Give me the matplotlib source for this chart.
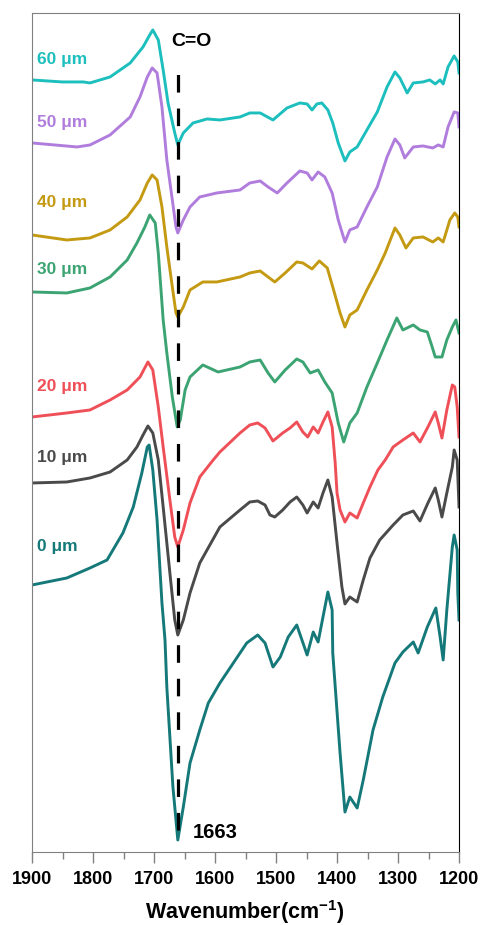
import matplotlib
matplotlib.use("Agg")
import matplotlib.pyplot as plt

plt.rcParams['font.family'] = ['Liberation Sans', 'DejaVu Sans']
plt.rcParams['mathtext.fontset'] = 'custom'
plt.rcParams['mathtext.rm'] = 'Liberation Sans'
plt.rcParams['mathtext.bf'] = 'Liberation Sans:bold'

# spectra, offset intensities (a.u.)
wn_60 = [1900, 1850, 1816, 1805, 1772, 1739, 1718, 1707, 1702, 1693, 1685, 1677, 1666, 1661, 1652, 1636, 1613,
         1592, 1559, 1543, 1526, 1505, 1482, 1461, 1449, 1441, 1433, 1425, 1415, 1407, 1398, 1387, 1379, 1367,
         1351, 1334, 1318, 1305, 1297, 1285, 1275, 1259, 1248, 1239, 1231, 1226, 1218, 1208, 1202, 1200]
ab_60 = [7.72, 7.70, 7.70, 7.69, 7.75, 7.89, 8.05, 8.17, 8.22, 8.12, 7.82, 7.49, 7.19, 7.07, 7.19, 7.29, 7.33,
         7.32, 7.35, 7.39, 7.39, 7.32, 7.44, 7.49, 7.48, 7.42, 7.48, 7.49, 7.42, 7.29, 7.09, 6.91, 7.00, 7.05,
         7.22, 7.40, 7.65, 7.80, 7.74, 7.59, 7.69, 7.70, 7.72, 7.68, 7.72, 7.68, 7.85, 7.96, 7.90, 7.79]

wn_50 = [1900, 1826, 1805, 1772, 1739, 1723, 1711, 1703, 1695, 1687, 1679, 1670, 1664, 1661, 1652, 1641, 1625,
         1597, 1559, 1543, 1526, 1513, 1498, 1482, 1461, 1449, 1441, 1431, 1420, 1408, 1398, 1387, 1379, 1367,
         1351, 1334, 1318, 1305, 1297, 1289, 1275, 1259, 1243, 1234, 1226, 1218, 1208, 1202, 1200]
ab_50 = [7.09, 7.05, 7.07, 7.17, 7.35, 7.55, 7.75, 7.84, 7.79, 7.45, 6.92, 6.52, 6.25, 6.19, 6.32, 6.45, 6.55,
         6.59, 6.62, 6.69, 6.71, 6.65, 6.59, 6.69, 6.81, 6.79, 6.72, 6.80, 6.75, 6.59, 6.32, 6.10, 6.22, 6.25,
         6.45, 6.65, 6.95, 7.13, 7.07, 6.94, 7.05, 7.06, 7.04, 7.07, 7.05, 7.25, 7.40, 7.39, 7.25]

wn_40 = [1900, 1843, 1805, 1772, 1744, 1723, 1711, 1703, 1695, 1687, 1679, 1670, 1664, 1661, 1652, 1641, 1620,
         1597, 1559, 1543, 1526, 1513, 1502, 1485, 1466, 1456, 1441, 1429, 1416, 1407, 1395, 1387, 1379, 1367,
         1351, 1334, 1321, 1305, 1297, 1287, 1275, 1259, 1243, 1234, 1226, 1215, 1207, 1202, 1200]
ab_40 = [6.17, 6.12, 6.14, 6.22, 6.35, 6.52, 6.69, 6.77, 6.72, 6.45, 6.05, 5.65, 5.39, 5.35, 5.45, 5.62, 5.70,
         5.70, 5.75, 5.79, 5.81, 5.75, 5.70, 5.79, 5.90, 5.89, 5.83, 5.91, 5.84, 5.65, 5.39, 5.25, 5.37, 5.42,
         5.62, 5.82, 5.99, 6.24, 6.17, 6.04, 6.14, 6.15, 6.10, 6.14, 6.10, 6.32, 6.39, 6.35, 6.25]

wn_30 = [1900, 1843, 1805, 1772, 1744, 1728, 1715, 1707, 1698, 1693, 1687, 1685, 1679, 1670, 1662, 1657, 1649,
         1641, 1620, 1595, 1559, 1543, 1526, 1513, 1502, 1485, 1466, 1456, 1444, 1431, 1420, 1408, 1398, 1389,
         1379, 1367, 1351, 1334, 1318, 1302, 1292, 1275, 1264, 1252, 1244, 1239, 1228, 1220, 1211, 1205, 1200]
ab_30 = [5.60, 5.59, 5.64, 5.75, 5.92, 6.09, 6.25, 6.37, 6.29, 5.99, 5.49, 5.32, 4.99, 4.55, 4.25, 4.32, 4.62,
         4.75, 4.87, 4.80, 4.85, 4.90, 4.92, 4.79, 4.70, 4.82, 4.93, 4.90, 4.79, 4.82, 4.70, 4.59, 4.29, 4.10,
         4.29, 4.39, 4.65, 4.89, 5.12, 5.34, 5.22, 5.27, 5.22, 5.20, 5.05, 4.95, 4.95, 5.12, 5.25, 5.32, 5.19]

wn_20 = [1900, 1843, 1805, 1772, 1744, 1723, 1710, 1702, 1693, 1685, 1674, 1666, 1661, 1652, 1641, 1625, 1603,
         1592, 1559, 1543, 1530, 1518, 1505, 1489, 1477, 1466, 1456, 1448, 1439, 1431, 1423, 1415, 1408, 1403,
         1400, 1395, 1387, 1379, 1367, 1357, 1346, 1333, 1321, 1308, 1292, 1275, 1264, 1251, 1239, 1234, 1228,
         1220, 1211, 1207, 1203, 1200]
ab_20 = [4.35, 4.39, 4.42, 4.52, 4.62, 4.75, 4.90, 4.82, 4.45, 4.05, 3.52, 3.15, 3.05, 3.22, 3.49, 3.75, 3.92,
         4.00, 4.19, 4.27, 4.29, 4.24, 4.11, 4.19, 4.24, 4.30, 4.20, 4.15, 4.25, 4.19, 4.30, 4.40, 4.25, 3.89,
         3.59, 3.42, 3.30, 3.39, 3.34, 3.49, 3.65, 3.82, 3.92, 4.05, 4.12, 4.19, 4.10, 4.25, 4.40, 4.29, 4.14,
         4.42, 4.67, 4.65, 4.45, 4.15]

wn_10 = [1900, 1843, 1805, 1772, 1744, 1728, 1718, 1710, 1702, 1693, 1685, 1674, 1666, 1661, 1652, 1641, 1625,
         1592, 1559, 1543, 1530, 1518, 1510, 1502, 1489, 1477, 1466, 1456, 1449, 1439, 1431, 1423, 1415, 1408,
         1400, 1392, 1387, 1379, 1367, 1357, 1346, 1330, 1308, 1292, 1275, 1264, 1251, 1239, 1234, 1228, 1220,
         1211, 1208, 1203, 1200]
ab_10 = [3.69, 3.70, 3.74, 3.80, 3.92, 4.05, 4.17, 4.26, 4.19, 3.92, 3.45, 2.79, 2.32, 2.17, 2.32, 2.59, 2.89,
         3.25, 3.42, 3.50, 3.51, 3.47, 3.37, 3.35, 3.42, 3.50, 3.55, 3.47, 3.39, 3.50, 3.44, 3.59, 3.72, 3.55,
         3.09, 2.65, 2.48, 2.55, 2.50, 2.72, 2.94, 3.12, 3.27, 3.37, 3.41, 3.31, 3.49, 3.64, 3.52, 3.35, 3.59,
         3.85, 4.02, 3.92, 3.45]

wn_0 = [1900, 1843, 1805, 1777, 1751, 1734, 1720, 1711, 1708, 1702, 1695, 1687, 1682, 1679, 1669, 1661, 1652,
        1641, 1625, 1611, 1592, 1570, 1548, 1530, 1518, 1505, 1493, 1480, 1466, 1449, 1439, 1431, 1423, 1415,
        1408, 1407, 1395, 1387, 1379, 1367, 1357, 1341, 1325, 1305, 1292, 1275, 1267, 1252, 1238, 1231, 1226,
        1220, 1211, 1208, 1203, 1202, 1200]
ab_0 = [2.67, 2.74, 2.84, 2.92, 3.19, 3.45, 3.79, 4.05, 4.07, 3.82, 3.32, 2.49, 2.12, 1.65, 0.65, 0.12, 0.45,
        0.89, 1.22, 1.49, 1.69, 1.89, 2.09, 2.17, 2.09, 1.85, 1.95, 2.15, 2.27, 1.97, 2.20, 2.10, 2.35, 2.60,
        2.42, 1.99, 0.99, 0.40, 0.55, 0.44, 0.72, 1.22, 1.55, 1.89, 2.00, 2.10, 1.99, 2.25, 2.44, 2.15, 1.92,
        2.42, 3.05, 3.17, 3.02, 2.59, 2.32]

labels = ['60 μm', '50 μm', '40 μm', '30 μm', '20 μm', '10 μm', '0 μm']
label_y = [7.92, 7.29, 6.49, 5.82, 4.65, 3.94, 3.05]
colors = ['#1cbfbd', '#b07ddd', '#c49a12', '#3ba472', '#ef5058', '#4a4a4a', '#15797a']
wn_all = [wn_60, wn_50, wn_40, wn_30, wn_20, wn_10, wn_0]
ab_all = [ab_60, ab_50, ab_40, ab_30, ab_20, ab_10, ab_0]

co_peak = 1660

fig = plt.figure(figsize=(4.8, 9.25), dpi=100)
ax = fig.add_axes([0.0667, 0.0789, 0.8896, 0.9071])

for wn, ab, c in zip(wn_all, ab_all, colors):
    ax.plot(wn, ab, color=c, lw=2.1, solid_joinstyle='round')

for lab, y, c in zip(labels, label_y, colors):
    ax.text(1892, y, lab, color=c, fontsize=12.5, fontweight='bold', va='center', ha='left')

ax.plot([co_peak, co_peak], [0.22, 7.89], color='black', lw=2.3, linestyle=(0, (5.5, 5)))
ax.text(1639, 8.10, 'C=O', fontsize=14, fontweight='bold', ha='center', va='center')
ax.text(1636, 0.20, '1663', fontsize=14.5, fontweight='bold', ha='left', va='center')

ax.set_xlim(1900, 1200)
ax.set_ylim(0, 8.39)
ax.set_yticks([])
ax.set_xticks([1900, 1800, 1700, 1600, 1500, 1400, 1300, 1200])
ax.set_xticks(range(1850, 1200, -100), minor=True)
ax.tick_params(axis='x', which='major', direction='out', length=8, width=1, color='#808080', pad=6,
               labelsize=13)
ax.tick_params(axis='x', which='minor', direction='out', length=5, width=1, color='#808080')
for t in ax.get_xticklabels():
    t.set_fontweight('bold')
for s in ['left', 'top', 'bottom']:
    ax.spines[s].set_color('#808080')
ax.spines['right'].set_color('black')
ax.set_xlabel('Wavenumber(cm$^{\\mathbf{-1}}$)', fontsize=15.5, fontweight='bold', va='center')
ax.xaxis.set_label_coords(0.499, -0.071)

fig.savefig('out.png', dpi=100)
